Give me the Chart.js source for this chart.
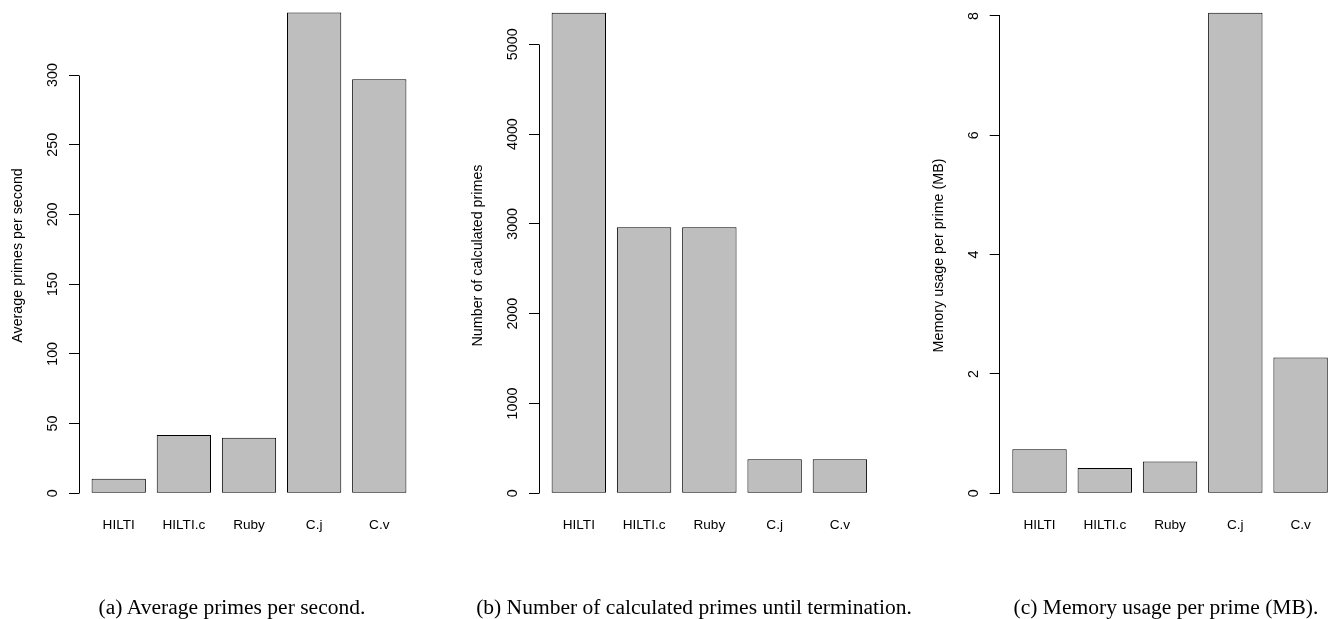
<!DOCTYPE html>
<html><head><meta charset="utf-8">
<script src="https://cdn.jsdelivr.net/npm/chart.js@4.4.1/dist/chart.umd.min.js"></script>
<style>
html,body{margin:0;padding:0;background:#fff;width:1331px;height:619px;overflow:hidden;position:relative}
canvas{position:absolute;top:-20px}
.cap{position:absolute;width:560px;text-align:center;white-space:nowrap;font-family:'Liberation Serif','Times New Roman',serif;font-size:20.5px;line-height:1;top:597px;transform:scaleX(1.05);transform-origin:center;color:#000}
</style></head><body>
<canvas id="c1" width="440" height="639" style="left:0px"></canvas>
<canvas id="c2" width="450" height="639" style="left:440px"></canvas>
<canvas id="c3" width="450" height="639" style="left:900px"></canvas>
<div class="cap" style="left:-48px">(a) Average primes per second.</div>
<div class="cap" style="left:413.5px">(b) Number of calculated primes until termination.</div>
<div class="cap" style="left:886px">(c) Memory usage per prime (MB).</div>
<script>
// ---- data ----
const categories = ['HILTI', 'HILTI.c', 'Ruby', 'C.j', 'C.v'];
const primesPerSecond = [10.5, 41.8, 39.9, 344.8, 297];
const calculatedPrimes = [5352, 2962, 2962, 379, 379];
const memoryPerPrime = [0.737, 0.424, 0.531, 8.055, 2.274];
const ticksA = [0, 50, 100, 150, 200, 250, 300];
const ticksB = [0, 1000, 2000, 3000, 4000, 5000];
const ticksC = [0, 2, 4, 6, 8];
const titleA = 'Average primes per second';
const titleB = 'Number of calculated primes';
const titleC = 'Memory usage per prime (MB)';

// R barplot positions (width 1, space 0.2)
const barX = categories.map((_, i) => 0.7 + 1.2 * i);
const SANS = '"Liberation Sans", Arial, Helvetica, sans-serif';

const rAxisPlugin = {
  id: 'rAxis',
  afterDraw(chart) {
    const ctx = chart.ctx, ys = chart.scales.y, area = chart.chartArea;
    const t = ys.ticks;
    const al = p => Math.round(p - 0.5) + 0.5;
    const x = al(area.left);
    const y0 = ys.getPixelForValue(t[0].value), y1 = ys.getPixelForValue(t[t.length - 1].value);
    ctx.save();
    ctx.strokeStyle = '#000'; ctx.lineWidth = 1;
    ctx.beginPath(); ctx.moveTo(x, al(y0)); ctx.lineTo(x, al(y1)); ctx.stroke();
    ctx.fillStyle = '#000';
    ctx.font = '14.3px ' + SANS;
    ctx.textAlign = 'center'; ctx.textBaseline = 'middle';
    t.forEach(tk => {
      const py = ys.getPixelForValue(tk.value);
      ctx.save(); ctx.translate(area.left - 26, py); ctx.rotate(-Math.PI / 2);
      ctx.fillText(String(tk.value), 0, 0); ctx.restore();
    });
    ctx.save(); ctx.translate(area.left - 61, 275.5); ctx.rotate(-Math.PI / 2);
    ctx.fillText(chart.options.plugins.rAxis.title, 0, 0); ctx.restore();
    ctx.restore();
  }
};

function makeChart(id, values, yTicks, yMax, yWidth, padRight, title) {
  return new Chart(document.getElementById(id), {
    type: 'bar',
    data: {
      datasets: [{
        data: values.map((v, i) => ({ x: barX[i], y: v })),
        backgroundColor: '#BEBEBE',
        borderColor: '#000',
        borderWidth: 1,
        borderSkipped: false,
        categoryPercentage: 1 / 1.2,
        barPercentage: 1
      }]
    },
    options: {
      responsive: false,
      animation: false,
      devicePixelRatio: 1,
      layout: { padding: { left: 0, top: 20, right: padRight, bottom: 75.7 } },
      plugins: { legend: { display: false }, tooltip: { enabled: false }, rAxis: { title: title } },
      scales: {
        x: {
          type: 'linear', min: -0.032, max: 6.232, offset: false,
          afterBuildTicks: s => { s.ticks = barX.map(v => ({ value: v })); },
          afterFit: s => { s.height = 50; },
          grid: { display: false, drawTicks: false },
          border: { display: false },
          ticks: {
            autoSkip: false, maxRotation: 0, minRotation: 0, padding: 24, color: '#000',
            font: { family: SANS, size: 13.6 },
            callback: (v, i) => categories[i]
          }
        },
        y: {
          min: 0, max: yMax,
          afterBuildTicks: s => { s.ticks = yTicks.map(v => ({ value: v })); },
          afterFit: s => { s.width = yWidth; },
          grid: { display: true, drawOnChartArea: false, drawTicks: true, tickLength: 10, color: '#000', lineWidth: 1 },
          border: { display: false },
          ticks: { display: false }
        }
      }
    },
    plugins: [rAxisPlugin]
  });
}

makeChart('c1', primesPerSecond, ticksA, 353.8, 79, 21, titleA);
makeChart('c2', calculatedPrimes, ticksB, 5493.3, 99, 10.3, titleB);
makeChart('c3', memoryPerPrime, ticksC, 8.268, 99.7, 9.6, titleC);
</script>
</body></html>
